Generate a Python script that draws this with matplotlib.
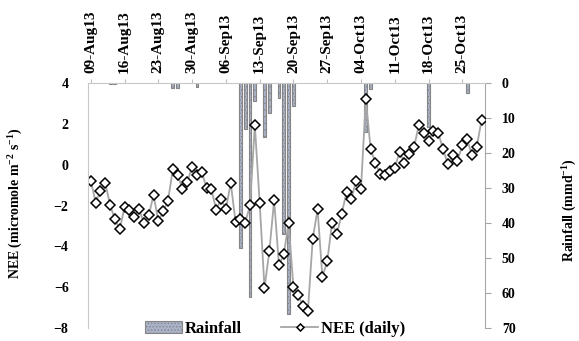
import matplotlib
matplotlib.use('Agg')
import matplotlib.pyplot as plt
import matplotlib.dates as mdates
import pandas as pd

# daily NEE, starting 9 Aug 2013
start = '2013-08-09'
nee = [-0.78, -1.86, -1.27, -0.91, -1.99, -2.68, -3.17, -2.06, -2.22, -2.55,
       -2.19, -2.84, -2.48, -1.50, -2.75, -2.29, -1.76, -0.23, -0.49, -1.21,
       -0.85, -0.10, -0.49, -0.36, -1.14, -1.21, -2.22, -1.67, -2.19, -0.88,
       -2.81, -2.68, -2.84, -1.99, 1.93, -1.86, -6.04, -4.25, -1.73, -4.93,
       -4.38, -2.87, -6.01, -6.40, -6.93, -7.16, -3.63, -2.19, -5.49, -4.74,
       -2.87, -3.40, -2.42, -1.34, -1.67, -0.78, -1.18, 3.21, 0.78, 0.07,
       -0.46, -0.49, -0.32, -0.16, 0.64, 0.07, 0.52, 0.85, 1.96, 1.57,
       1.18, 1.64, 1.57, 0.78, 0.03, 0.49, 0.20, 0.95, 1.25, 0.46,
       0.88, 2.19]

# rain days (mm/day)
rain_dates = ['2013-08-13', '2013-08-14', '2013-08-26', '2013-08-27', '2013-08-31',
              '2013-09-09', '2013-09-10', '2013-09-11', '2013-09-12', '2013-09-14',
              '2013-09-15', '2013-09-17', '2013-09-18', '2013-09-19', '2013-09-20',
              '2013-10-05', '2013-10-06', '2013-10-18', '2013-10-26']
rain_mm = [0.4, 0.4, 1.4, 1.4, 1.2,
           47, 13, 61, 5, 15.5,
           8.7, 4.4, 43, 66, 6.5,
           14, 1.8, 12.5, 2.9]

plt.rcParams['font.family'] = 'Liberation Serif'
plt.rcParams['font.weight'] = 'bold'
plt.rcParams['axes.labelweight'] = 'bold'
plt.rcParams['mathtext.fontset'] = 'custom'
plt.rcParams['mathtext.bf'] = 'Liberation Serif:bold'
plt.rcParams['mathtext.rm'] = 'Liberation Serif:bold'
plt.rcParams['mathtext.default'] = 'bf'
plt.rcParams['hatch.linewidth'] = 0.6

days = pd.date_range(start, periods=len(nee), freq='D')
rdays = pd.to_datetime(rain_dates)

fig = plt.figure(figsize=(5.79, 3.41), dpi=100)
ax = fig.add_axes([0.152, 0.038, 0.686, 0.7185])
ax2 = ax.twinx()

# rainfall hangs from the top (inverted right axis)
bars = ax2.bar(rdays, rain_mm, width=0.6, color='#a9b2c8', edgecolor='#858585',
               linewidth=0.8, hatch='.....', label='Rainfall')
ax2.set_ylim(70, 0)
ax2.set_yticks(range(0, 71, 10))
ax2.tick_params(axis='y', length=4, color='#a6a6a6', pad=8, labelsize=10)
for s in ['top', 'left', 'bottom']:
    ax2.spines[s].set_visible(False)
ax2.spines['right'].set_color('#a6a6a6')
ax2.set_ylabel('Rainfall (mmd$^{-1}$)', fontsize=10, fontweight='bold')
ax2.yaxis.set_label_coords(1.19, 0.48)

# NEE line above the bars
ax.set_zorder(ax2.get_zorder() + 1)
ax.patch.set_visible(False)
line, = ax.plot(days, nee, color='#a6a6a6', lw=1.3, marker='D', ms=4.8,
                mfc='white', mec='black', mew=1.1, label='NEE (daily)')
ax.set_ylim(-8, 4)
ax.set_yticks(range(-8, 5, 2))
ax.tick_params(axis='y', length=0, pad=14, labelsize=10)
ax.set_ylabel('NEE (micromole m$^{-2}$ s$^{-1}$)', fontsize=10, fontweight='bold')
ax.yaxis.set_label_coords(-0.159, 0.51)

ax.set_xlim(days[0] - pd.Timedelta(hours=14), days[0] + pd.Timedelta(days=81.75))
ax.xaxis.tick_top()
ax.set_xticks(pd.date_range('2013-08-09', '2013-10-25', freq='7D'))
ax.xaxis.set_major_formatter(mdates.DateFormatter('%d-%b%y'))
ax.tick_params(axis='x', length=3, color='#bfbfbf', pad=4, labelsize=11,
               labelrotation=90)

ax.spines['right'].set_visible(False)
ax.spines['bottom'].set_visible(False)
ax.spines['top'].set_color('#c8c8c8')
ax.spines['left'].set_color('#c8c8c8')

fig.legend([bars, line], ['Rainfall', 'NEE (daily)'], loc='center',
           bbox_to_anchor=(0.475, 0.036), ncol=2, frameon=False, fontsize=12,
           handlelength=2.2, columnspacing=2.4, handletextpad=0.15,
           markerscale=0.75)

fig.savefig('out.png', dpi=100)
